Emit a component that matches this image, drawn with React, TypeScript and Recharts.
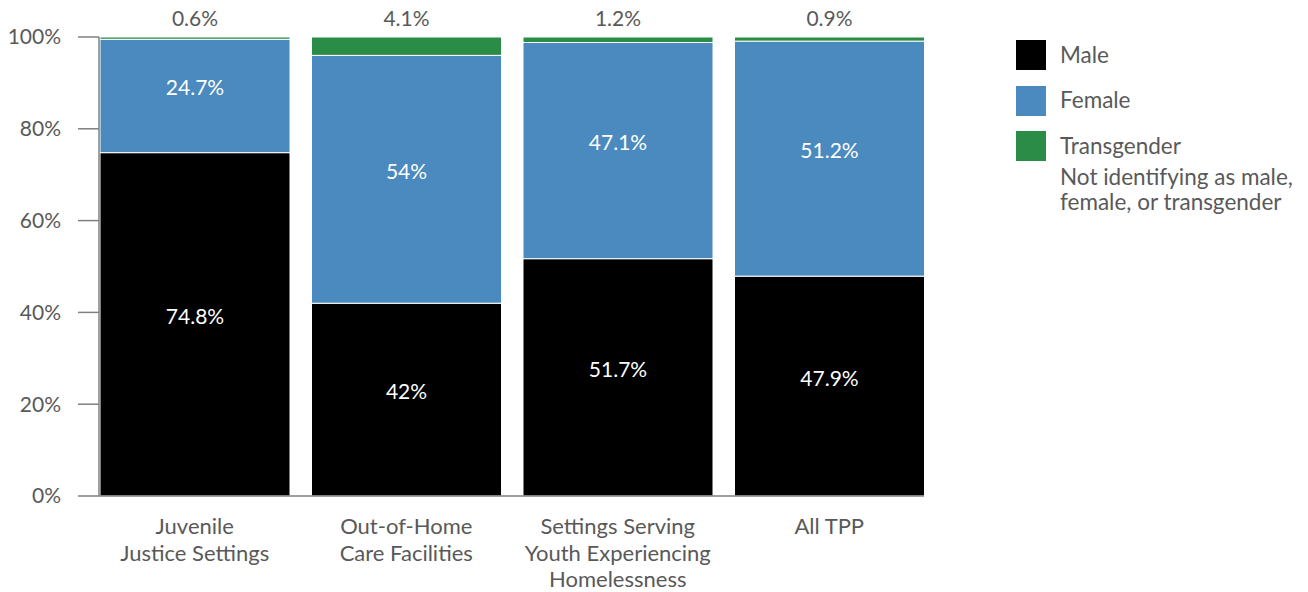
import { BarChart, Bar, XAxis, YAxis, LabelList, Legend } from "recharts";

const CATEGORIES = [
  "Juvenile\nJustice Settings",
  "Out-of-Home\nCare Facilities",
  "Settings Serving\nYouth Experiencing\nHomelessness",
  "All TPP",
];
const MALE = [74.8, 42, 51.7, 47.9];
const FEMALE = [24.7, 54, 47.1, 51.2];
const TRANSGENDER = [0.6, 4.1, 1.2, 0.9];
const Y_TICKS = [0, 20, 40, 60, 80, 100];

const LEGEND_ITEMS = [
  { name: "Male", color: "#000000" },
  { name: "Female", color: "#4A8ABE" },
  { name: "Transgender", color: "#2A8C46" },
  { name: "Not identifying as male,\nfemale, or transgender", color: null },
];

const FONT = "Lato, 'Open Sans', sans-serif";
const TEXT = "#595959";

const data = CATEGORIES.map((name, i) => ({
  name,
  male: MALE[i],
  female: FEMALE[i],
  trans: TRANSGENDER[i],
}));

const pct = (v: any) => `${v}%`;

function CategoryTick({ x, y, payload }: any) {
  const lines = String(payload.value).split("\n");
  return (
    <text x={x} y={y} textAnchor="middle" fill={TEXT} fontSize={22} fontFamily={FONT}>
      {lines.map((l, i) => (
        <tspan key={i} x={x} dy={i === 0 ? 38 : 26.5}>{l}</tspan>
      ))}
    </text>
  );
}

// inside labels sit a bit above the segment's middle in the original
function InsideLabel({ x, y, width, height, value }: any) {
  return (
    <text
      x={x + width / 2}
      y={y + height / 2 - 9}
      textAnchor="middle"
      dominantBaseline="central"
      fill="#ffffff"
      fontSize={21}
      fontFamily={FONT}
    >
      {pct(value)}
    </text>
  );
}

function LegendBox() {
  return (
    <div style={{ fontFamily: FONT, fontSize: 22.5, color: TEXT, lineHeight: "25px" }}>
      {LEGEND_ITEMS.map((item) =>
        item.color ? (
          <div key={item.name} style={{ display: "flex", alignItems: "center", height: 30, marginBottom: 15.5 }}>
            <div style={{ width: 30, height: 30, background: item.color, marginRight: 14, flex: "none" }} />
            <div style={{ whiteSpace: "pre", marginTop: -2 }}>{item.name}</div>
          </div>
        ) : (
          <div key={item.name} style={{ whiteSpace: "pre", marginLeft: 44, marginTop: -13 }}>
            {item.name}
          </div>
        )
      )}
    </div>
  );
}

export default function App() {
  return (
    <div style={{ position: "absolute", left: 0, top: 0, background: "#fff" }}>
      <BarChart
        width={1308}
        height={592}
        data={data}
        margin={{ top: 37, right: 384, bottom: 0, left: 0 }}
        barCategoryGap={11}
      >
        <XAxis
          dataKey="name"
          tick={<CategoryTick />}
          tickLine={false}
          tickSize={0}
          tickMargin={0}
          height={96}
          interval={0}
          axisLine={{ stroke: "#808080", strokeWidth: 1.5 }}
          padding={{ left: -10, right: -11 }}
        />
        <YAxis
          domain={[0, 100]}
          ticks={Y_TICKS}
          tickFormatter={pct}
          width={99}
          tickSize={21}
          tickMargin={17}
          tick={{ fill: TEXT, fontSize: 21, fontFamily: FONT }}
          tickLine={{ stroke: "#808080", strokeWidth: 1.5 }}
          axisLine={{ stroke: "#808080", strokeWidth: 1.5 }}
          allowDataOverflow
        />
        <Legend
          layout="vertical"
          align="center"
          verticalAlign="middle"
          content={() => <LegendBox />}
          wrapperStyle={{ left: 1016, top: 40, width: 292 }}
        />
        <Bar dataKey="male" stackId="a" fill="#000000" stroke="#ffffff" strokeWidth={1} isAnimationActive={false}>
          <LabelList dataKey="male" content={<InsideLabel />} />
        </Bar>
        <Bar dataKey="female" stackId="a" fill="#4A8ABE" stroke="#ffffff" strokeWidth={1} isAnimationActive={false}>
          <LabelList dataKey="female" content={<InsideLabel />} />
        </Bar>
        <Bar dataKey="trans" stackId="a" fill="#2A8C46" stroke="#ffffff" strokeWidth={1} isAnimationActive={false}>
          <LabelList dataKey="trans" position="top" offset={11} formatter={pct} fill={TEXT} fontSize={21} fontFamily={FONT} />
        </Bar>
      </BarChart>
    </div>
  );
}
